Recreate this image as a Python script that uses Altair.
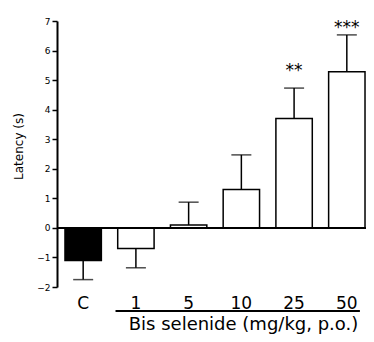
import altair as alt
import pandas as pd

categories = ["C", "1", "5", "10", "25", "50"]
groups = ["control", "treated", "treated", "treated", "treated", "treated"]
latency_mean = [-1.1, -0.7, 0.1, 1.3, 3.7, 5.28]
latency_err = [-1.75, -1.35, 0.87, 2.47, 4.73, 6.53]

star_cats = ["25", "50"]
star_text = ["**", "***"]
star_pos = [5.14, 6.6]

y_ticks = [-2, -1, 0, 1, 2, 3, 4, 5, 6, 7]

df = pd.DataFrame({"cat": categories, "group": groups,
                   "mean": latency_mean, "err": latency_err})
stars = pd.DataFrame({"cat": star_cats, "txt": star_text, "pos": star_pos})

FONT = "DejaVu Sans"

xscale = alt.Scale(domain=categories, paddingInner=0.31, paddingOuter=0.085, align=0.89)
yscale = alt.Scale(domain=[-2, 7], nice=False, zero=False)

xaxis = alt.Axis(domain=False, ticks=False, labelAngle=0, labelFont=FONT,
                 labelFontSize=17, labelColor="black", labelPadding=21,
                 labelBaseline="alphabetic",
                 title="Bis selenide (mg/kg, p.o.)", titleFont=FONT,
                 titleFontSize=18, titleFontWeight="normal", titleColor="black",
                 titleX=186, titleY=42, titleAlign="center",
                 titleBaseline="alphabetic", grid=False)
yaxis = alt.Axis(values=y_ticks, tickSize=5, tickWidth=1.5, tickColor="black",
                 domainColor="black", domainWidth=2, labelFont=FONT,
                 labelFontSize=9, labelColor="black", labelPadding=2,
                 labelOverlap=False,
                 grid=False, title="Latency (s)", titleFont=FONT,
                 titleFontSize=12, titleFontWeight="normal", titleColor="black",
                 titleX=-39, titleY=125, titleAngle=-90, titleAlign="center",
                 titleBaseline="middle")

X = alt.X("cat:N", scale=xscale, sort=categories, axis=xaxis)

base = alt.Chart(df)

bars = base.mark_bar(stroke="black", strokeWidth=1.5).encode(
    x=X,
    y=alt.Y("mean:Q", scale=yscale, axis=yaxis),
    fill=alt.Fill("group:N", scale=alt.Scale(domain=["control", "treated"],
                                             range=["black", "white"]), legend=None),
)

stems = base.mark_rule(color="black", strokeWidth=1.5).encode(
    x=X,
    y=alt.Y("mean:Q", scale=yscale, axis=yaxis),
    y2="err:Q",
)

caps = base.mark_tick(color="black", thickness=1.5, size=20, orient="horizontal").encode(
    x=X,
    y=alt.Y("err:Q", scale=yscale, axis=yaxis),
)

star_marks = alt.Chart(stars).mark_text(font=FONT, fontSize=17, color="black",
                                        baseline="alphabetic").encode(
    x=X,
    y=alt.Y("pos:Q", scale=yscale, axis=yaxis),
    text="txt:N",
)

zero_line = alt.Chart(df).mark_rule(color="black", strokeWidth=2).encode(
    y=alt.datum(0, axis=yaxis, scale=yscale)
)

underline = alt.Chart(df).mark_rule(color="black", strokeWidth=2, xOffset=-20,
                                    x2Offset=12.5, yOffset=24).encode(
    x=alt.datum("1", axis=xaxis, scale=xscale), x2=alt.datum("50"),
    y=alt.datum(-2, axis=yaxis, scale=yscale)
)

chart = alt.layer(bars, stems, caps, star_marks, zero_line, underline).properties(
    width=309, height=266,
    autosize=alt.AutoSizeParams(type="none"),
    padding={"left": 49, "top": 13, "right": 0, "bottom": 47},
).configure_view(stroke=None)

chart.save("out.html", embed_options={"renderer": "svg", "actions": False})
